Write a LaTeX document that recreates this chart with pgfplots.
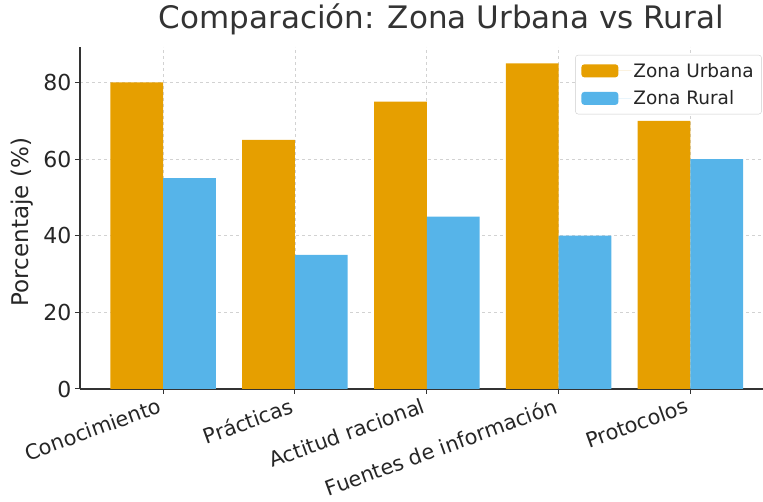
\documentclass[border=0pt]{standalone}
\usepackage{fontspec}
\setmainfont{DejaVu Sans}
\usepackage{pgfplots}
\pgfplotsset{compat=1.18}
\definecolor{urb}{HTML}{E69F00}
\definecolor{rur}{HTML}{56B4E9}
\definecolor{txt}{HTML}{333333}
\begin{document}
\begin{tikzpicture}
\path[use as bounding box] (-80pt,-113pt) rectangle (683pt,389pt);
\begin{axis}[
  at={(0pt,0pt)}, anchor=south west,
  width=683pt, height=342pt, scale only axis,
  xmin=-0.63, xmax=4.55, ymin=0, ymax=89.25,
  xtick={0,1,2,3,4},
  xticklabels={Conocimiento,Prácticas,Actitud racional,Fuentes de información,Protocolos},
  ytick={0,20,40,60,80},
  axis x line*=bottom, axis y line*=left,
  axis line style={-, line width=1.3pt, color=txt},
  tick style={line width=1pt, color=txt},
  major tick length=5pt,
  tick align=outside,
  grid=major, grid style={dashed, gray!35, line width=0.6pt},
  /pgf/number format/assume math mode=true,
  ticklabel style={font=\fontsize{22}{26}\selectfont, text=black!85},
  xticklabel style={rotate=20, anchor=north east, xshift=-3pt, yshift=2.5pt, font=\fontsize{20.8}{25}\selectfont},
  ylabel={Porcentaje (\%)},
  ylabel style={at={(axis description cs:-0.084,0.488)}, anchor=center, font=\fontsize{23}{27}\selectfont, text=black!85},
  title={Comparación: Zona Urbana vs Rural},
  title style={at={(axis description cs:0.529,1)}, anchor=base, yshift=12pt, font=\fontsize{31}{36}\selectfont, text=txt},
  legend style={at={(0.725,0.977)}, anchor=north west, draw=gray!40, rounded corners=3pt,
    fill=white, font=\fontsize{18.5}{22}\selectfont,
    inner xsep=6pt, inner ysep=6pt, row sep=8pt, cells={anchor=west}, text=black!85},
  legend image code/.code={\path (0pt,0pt) -- (50pt,0pt); \fill[#1,/tikz/.cd] (0pt,-6.5pt) rectangle (37pt,6.5pt);},
]
\addplot[ybar, bar width=0.4, bar shift=-0.2, fill=urb, draw=none]
  coordinates {(0,80) (1,65) (2,75) (3,85) (4,70)};
\addlegendentry{Zona Urbana}
\addplot[ybar, bar width=0.4, bar shift=0.2, fill=rur, draw=none]
  coordinates {(0,55) (1,35) (2,45) (3,40) (4,60)};
\addlegendentry{Zona Rural}
\end{axis}
\end{tikzpicture}
\end{document}
